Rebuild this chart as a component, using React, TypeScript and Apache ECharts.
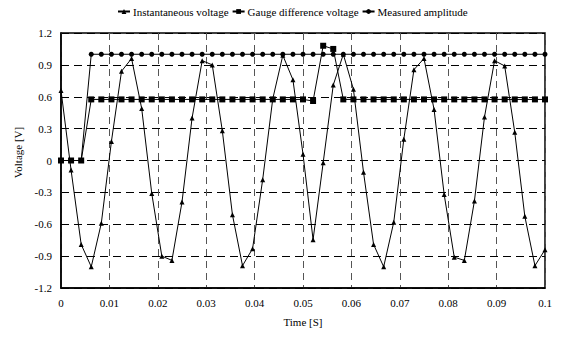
import React, { useEffect, useRef } from "react";
import * as echarts from "echarts";

const timeS = [
  0, 0.00208, 0.00417, 0.00625, 0.00833, 0.01042, 0.0125, 0.01458, 0.01667, 0.01875,
  0.02083, 0.02292, 0.025, 0.02708, 0.02917, 0.03125, 0.03333, 0.03542, 0.0375, 0.03958,
  0.04167, 0.04375, 0.04583, 0.04792, 0.05, 0.05208, 0.05417, 0.05625, 0.05833, 0.06042,
  0.0625, 0.06458, 0.06667, 0.06875, 0.07083, 0.07292, 0.075, 0.07708, 0.07917, 0.08125,
  0.08333, 0.08542, 0.0875, 0.08958, 0.09167, 0.09375, 0.09583, 0.09792, 0.1,
];

const instantaneous = [
  0.66, -0.09, -0.79, -1.0, -0.59, 0.18, 0.84, 0.96, 0.49, -0.31,
  -0.9, -0.94, -0.39, 0.4, 0.94, 0.9, 0.28, -0.51, -0.99, -0.83,
  -0.18, 0.58, 0.99, 0.76, 0.06, -0.745, -0.02, 0.71, 1.0, 0.67,
  -0.11, -0.79, -1.0, -0.58, 0.2, 0.855, 0.96, 0.48, -0.32, -0.91,
  -0.94, -0.38, 0.41, 0.94, 0.89, 0.265, -0.525, -0.99, -0.84,
];

const gaugeDifference = [
  0, 0, 0, 0.575, 0.575, 0.575, 0.575, 0.575, 0.575, 0.575,
  0.575, 0.575, 0.575, 0.575, 0.575, 0.575, 0.575, 0.575, 0.575, 0.575,
  0.575, 0.575, 0.575, 0.575, 0.575, 0.56, 1.08, 1.05, 0.575, 0.575,
  0.575, 0.575, 0.575, 0.575, 0.575, 0.575, 0.575, 0.575, 0.575, 0.575,
  0.575, 0.575, 0.575, 0.575, 0.575, 0.575, 0.575, 0.575, 0.575,
];

const measuredAmplitude = [
  0, 0, 0, 1.0, 1.0, 1.0, 1.0, 1.0, 1.0, 1.0,
  1.0, 1.0, 1.0, 1.0, 1.0, 1.0, 1.0, 1.0, 1.0, 1.0,
  1.0, 1.0, 1.0, 1.0, 1.0, 1.0, 1.0, 1.0, 1.0, 1.0,
  1.0, 1.0, 1.0, 1.0, 1.0, 1.0, 1.0, 1.0, 1.0, 1.0,
  1.0, 1.0, 1.0, 1.0, 1.0, 1.0, 1.0, 1.0, 1.0,
];

const seriesNames = ["Instantaneous voltage", "Gauge difference voltage", "Measured amplitude"];

const FONT = "Liberation Serif";

function pairs(ys: number[]) {
  return ys.map((y, i) => [timeS[i], y]);
}

export default function App() {
  const ref = useRef<HTMLDivElement>(null);
  useEffect(() => {
    if (!ref.current) return;
    const chart = echarts.init(ref.current, undefined, { renderer: "svg" });
    const lineStyle = { color: "#000", width: 1 };
    chart.setOption({
      animation: false,
      backgroundColor: "#fff",
      textStyle: { fontFamily: FONT, color: "#000" },
      legend: {
        top: 1,
        left: 112,
        itemWidth: 12,
        itemHeight: 6,
        itemGap: 3,
        textStyle: { fontFamily: FONT, fontSize: 11, color: "#000", padding: [0, 0, 0, -2] },
        data: seriesNames,
      },
      grid: {
        left: 61,
        right: 17,
        top: 33,
        bottom: 51,
        show: true,
        borderColor: "#000",
        borderWidth: 1.5,
      },
      xAxis: {
        type: "value",
        min: 0,
        max: 0.1,
        interval: 0.01,
        name: "Time [S]",
        nameLocation: "middle",
        nameGap: 28,
        nameTextStyle: { fontFamily: FONT, fontSize: 11, color: "#000" },
        axisLine: { show: true, onZero: false, lineStyle: { color: "#000", width: 1.5 } },
        axisTick: { show: false },
        axisLabel: {
          fontFamily: FONT,
          fontSize: 11,
          color: "#000",
          margin: 9,
          formatter: (v: number) => String(Number(v.toFixed(3))),
        },
        splitLine: { show: true, lineStyle: { color: "#555", type: [7, 5], width: 1 } },
      },
      yAxis: {
        type: "value",
        min: -1.2,
        max: 1.2,
        interval: 0.3,
        name: "Voltage [V]",
        nameLocation: "middle",
        nameGap: 38,
        nameTextStyle: { fontFamily: FONT, fontSize: 11, color: "#000", padding: [0, 0, 0, 16] },
        axisLine: { show: true, onZero: false, lineStyle: { color: "#000", width: 1.5 } },
        axisTick: { show: false },
        axisLabel: {
          fontFamily: FONT,
          fontSize: 11,
          color: "#000",
          margin: 9,
          formatter: (v: number) => String(Number(v.toFixed(2))),
        },
        splitLine: { show: true, lineStyle: { color: "#000", type: [8, 5], width: 1 } },
      },
      series: [
        {
          name: seriesNames[0],
          type: "line",
          data: pairs(instantaneous),
          symbol: "triangle",
          symbolSize: 5,
          lineStyle,
          itemStyle: { color: "#000" },
        },
        {
          name: seriesNames[1],
          type: "line",
          data: pairs(gaugeDifference),
          symbol: "rect",
          symbolSize: 6,
          lineStyle,
          itemStyle: { color: "#000" },
        },
        {
          name: seriesNames[2],
          type: "line",
          data: pairs(measuredAmplitude),
          symbol: "circle",
          symbolSize: 5,
          lineStyle,
          itemStyle: { color: "#000" },
        },
      ],
    });
    return () => chart.dispose();
  }, []);
  return (
    <div
      ref={ref}
      style={{ position: "fixed", left: 0, top: 0, width: 562, height: 339, background: "#fff" }}
    />
  );
}
